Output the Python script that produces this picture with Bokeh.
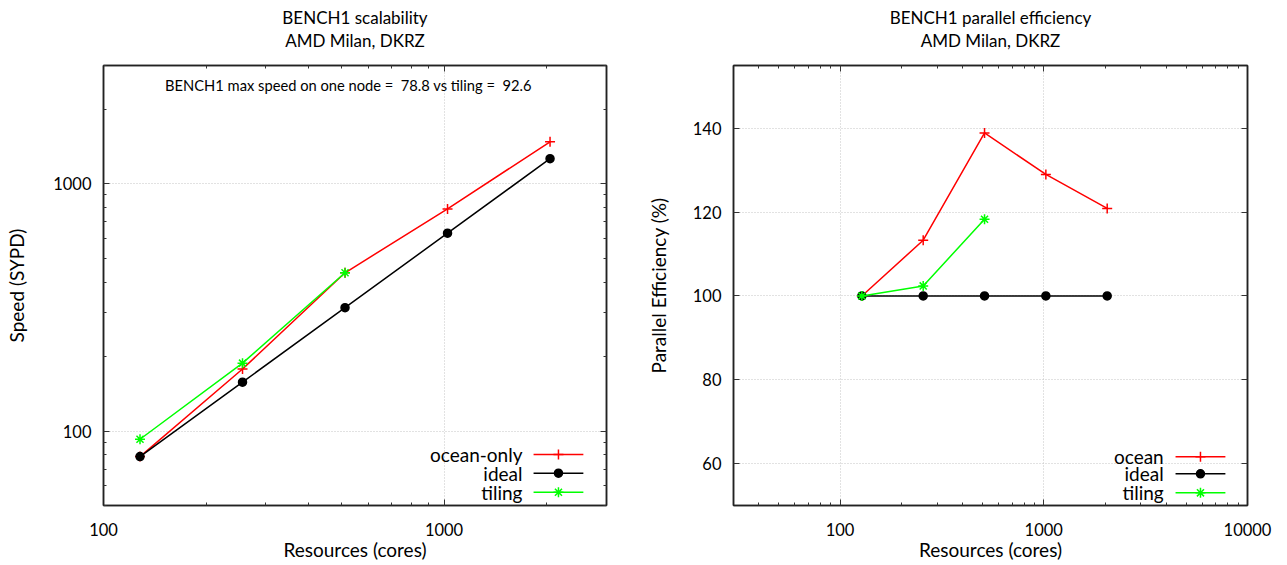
import numpy as np
from bokeh.plotting import figure
from bokeh.models import FixedTicker, LogAxis, LinearAxis, Title, Range1d, PrintfTickFormatter
from bokeh.layouts import row
from bokeh.embed import file_html
from bokeh.resources import INLINE
from bokeh.core.properties import value

FONT = "Lato"

# --- measurements -------------------------------------------------------
cores = [128, 256, 512, 1024, 2048]
ocean_speed = [78.8, 178.0, 436.0, 790.0, 1475.0]
ideal_speed = [78.8, 157.6, 315.2, 630.4, 1260.8]
tiling_cores = [128, 256, 512]
tiling_speed = [92.6, 188.0, 436.0]

ocean_eff = [100.0, 113.3, 138.9, 129.0, 120.9]
ideal_eff = [100.0, 100.0, 100.0, 100.0, 100.0]
tiling_eff = [100.0, 102.4, 118.3]

# axis tick labels
speed_xticks = [100, 1000]
speed_yticks = [100, 1000]
eff_xticks = [100, 1000, 10000]
eff_yticks = [60, 80, 100, 120, 140]

RED, BLACK, GREEN = "#ff0000", "#000000", "#00ff00"
GRID = "#c4c4c4"


def log_minors(lo, hi):
    out = []
    d = 10 ** int(np.floor(np.log10(lo)))
    while d < hi:
        for m in range(2, 10):
            v = m * d
            if lo <= v <= hi:
                out.append(v)
        d *= 10
    return out


def frame_pos(rng, f, log):
    """Data coordinate at fraction f across a range."""
    a, b = rng
    if log:
        return 10 ** (np.log10(a) + f * (np.log10(b) - np.log10(a)))
    return a + f * (b - a)


def style_axis(ax, ticker, labels=True, tick_standoff=12, label_standoff=6):
    ax.ticker = ticker
    ax.major_tick_in = 6
    ax.major_tick_out = 0
    ax.minor_tick_in = 3
    ax.minor_tick_out = 0
    ax.axis_line_color = "#222222"
    ax.axis_line_width = 1.5
    ax.major_tick_line_color = "#333333"
    ax.minor_tick_line_color = "#333333"
    ax.major_label_text_font = FONT
    ax.major_label_text_font_size = "16.5px"
    ax.major_label_text_color = "black"
    ax.axis_label_text_font = FONT
    ax.axis_label_text_font_size = "19px"
    ax.axis_label_text_font_style = "normal"
    ax.axis_label_text_color = "black"
    ax.major_label_standoff = tick_standoff
    ax.axis_label_standoff = label_standoff
    if not labels:
        # mirror axis: ticks only, labels kept invisible
        ax.major_label_overrides = {t: "0" for t in ticker.ticks}
        ax.major_label_text_font_size = "2px"
        ax.major_label_text_alpha = 0


def make_fig(width, xr, yr, xlog, ylog, borders):
    p = figure(width=width, height=565,
               x_axis_type="log" if xlog else "linear",
               y_axis_type="log" if ylog else "linear",
               x_range=Range1d(*xr), y_range=Range1d(*yr),
               output_backend="svg", toolbar_location=None,
               min_border_left=borders[0], min_border_right=borders[1],
               min_border_top=borders[2], min_border_bottom=borders[3])
    p.background_fill_color = "white"
    p.border_fill_color = "white"
    p.outline_line_color = "#222222"
    p.outline_line_width = 1.5
    for g in (p.xgrid, p.ygrid):
        g.grid_line_color = GRID
        g.grid_line_dash = "1 2"
        g.grid_line_width = 1
    return p


def add_titles(p, line1, line2):
    # blank gap between the frame and the two heading lines
    p.add_layout(Title(text="\u00a0", text_font=FONT, text_font_size="11px",
                       standoff=0), "above")
    p.add_layout(Title(text=line2, align="center", text_font=FONT,
                       text_font_size="17px", text_font_style="normal",
                       text_color="black", standoff=0), "above")
    p.title.text = line1
    p.title.align = "center"
    p.title.text_font = FONT
    p.title.text_font_size = "17px"
    p.title.text_font_style = "normal"
    p.title.text_color = "black"
    p.title.standoff = 0


def draw_key(p, xr, yr, xlog, ylog, entries, fx_text, fx0, fx1, fys):
    for (label, color, marker, msize), fy in zip(entries, fys):
        y = frame_pos(yr, fy, ylog)
        p.text(x=[frame_pos(xr, fx_text, xlog)], y=[y], text=[label],
               text_align="right", text_baseline="middle",
               text_font=value(FONT), text_font_size="19px", text_color="black")
        p.line(x=[frame_pos(xr, fx0, xlog), frame_pos(xr, fx1, xlog)], y=[y, y],
               line_color=color, line_width=1.5)
        p.scatter(x=[frame_pos(xr, (fx0 + fx1) / 2, xlog)], y=[y], marker=marker,
                  size=msize, line_color=color, fill_color=color, line_width=1.5)


def draw_series(p, x, y, color, marker, msize):
    p.line(x, y, line_color=color, line_width=1.5)
    p.scatter(x, y, marker=marker, size=msize, line_color=color,
              fill_color=color, line_width=1.5)


def pad(v):
    return ("%5.1f" % v).replace(" ", "\u00a0")


# --- left: speed --------------------------------------------------------
xr1, yr1 = (100, 3000), (50, 3000)
p1 = make_fig(640, xr1, yr1, True, True, (103, 34, 65, 60))
xt1 = FixedTicker(ticks=speed_xticks, minor_ticks=log_minors(*xr1))
yt1 = FixedTicker(ticks=speed_yticks, minor_ticks=log_minors(*yr1))
style_axis(p1.xaxis[0], xt1, tick_standoff=17, label_standoff=-1)
style_axis(p1.yaxis[0], yt1, tick_standoff=12, label_standoff=22)
p1.xaxis[0].formatter = PrintfTickFormatter(format="%d")
p1.yaxis[0].formatter = PrintfTickFormatter(format="%d")
p1.xaxis[0].axis_label = "Resources (cores)"
p1.yaxis[0].axis_label = "Speed (SYPD)"
p1.xgrid.ticker = xt1
p1.ygrid.ticker = yt1
top1 = LogAxis()
right1 = LogAxis()
style_axis(top1, xt1, labels=False, tick_standoff=0)
style_axis(right1, yt1, labels=False, tick_standoff=0)
p1.add_layout(top1, "above")
p1.add_layout(right1, "right")
add_titles(p1, "BENCH1 scalability", "AMD Milan, DKRZ")

draw_series(p1, cores, ocean_speed, RED, "cross", 10)
draw_series(p1, cores, ideal_speed, BLACK, "circle", 8)
draw_series(p1, tiling_cores, tiling_speed, GREEN, "asterisk", 10)

note = "BENCH1 max speed on one node = %s vs tiling = %s" % (pad(ocean_speed[0]), pad(tiling_speed[0]))
p1.text(x=[frame_pos(xr1, 0.487, True)], y=[frame_pos(yr1, 0.956, True)], text=[note],
        text_align="center", text_baseline="middle", text_font=value(FONT),
        text_font_size="14.7px", text_color="black")

draw_key(p1, xr1, yr1, True, True,
         [("ocean-only", RED, "cross", 10), ("ideal", BLACK, "circle", 8),
          ("tiling", GREEN, "asterisk", 10)],
         0.833, 0.855, 0.954, [0.1158, 0.0734, 0.0302])

# --- right: parallel efficiency -----------------------------------------
xr2, yr2 = (30, 10000), (50, 155)
p2 = make_fig(647, xr2, yr2, True, False, (93, 40, 65, 60))
xt2 = FixedTicker(ticks=eff_xticks, minor_ticks=log_minors(*xr2))
yt2 = FixedTicker(ticks=eff_yticks)
style_axis(p2.xaxis[0], xt2, tick_standoff=17, label_standoff=-1)
style_axis(p2.yaxis[0], yt2, tick_standoff=12, label_standoff=20)
p2.xaxis[0].formatter = PrintfTickFormatter(format="%d")
p2.xaxis[0].axis_label = "Resources (cores)"
p2.yaxis[0].axis_label = "Parallel Efficiency (%)"
p2.xgrid.ticker = xt2
p2.ygrid.ticker = yt2
top2 = LogAxis()
right2 = LinearAxis()
style_axis(top2, xt2, labels=False, tick_standoff=0)
style_axis(right2, yt2, labels=False, tick_standoff=0)
p2.add_layout(top2, "above")
p2.add_layout(right2, "right")
add_titles(p2, "BENCH1 parallel efficiency", "AMD Milan, DKRZ")

draw_series(p2, cores, ocean_eff, RED, "cross", 10)
draw_series(p2, cores, ideal_eff, BLACK, "circle", 8)
draw_series(p2, tiling_cores, tiling_eff, GREEN, "asterisk", 10)

draw_key(p2, xr2, yr2, True, False,
         [("ocean", RED, "cross", 10), ("ideal", BLACK, "circle", 8),
          ("tiling", GREEN, "asterisk", 10)],
         0.837, 0.860, 0.957, [0.111, 0.072, 0.0288])

layout = row(p1, p2)
open("out.html", "w").write(file_html(layout, INLINE))
